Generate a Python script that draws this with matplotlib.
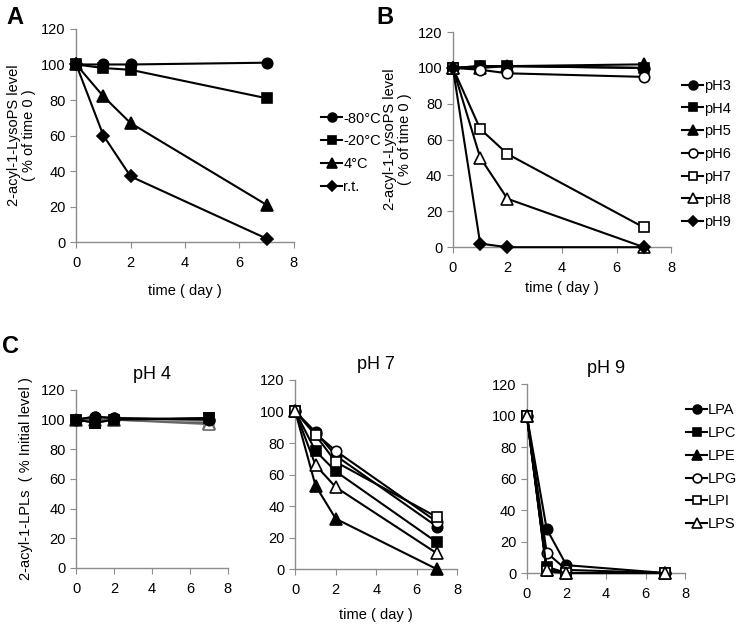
import numpy as np
import matplotlib.pyplot as plt

plt.rcParams['font.family'] = ['Liberation Sans', 'DejaVu Sans']

days = [0, 1, 2, 7]

# panel A: storage temperature
temp_labels = ['-80°C', '-20°C', '4°C', 'r.t.']
temp_m80 = [100, 100, 100, 101]
temp_m20 = [100, 98, 97, 81]
temp_4 = [100, 82, 67, 21]
temp_rt = [100, 60, 37, 2]

# panel B: pH
ph_labels = ['pH3', 'pH4', 'pH5', 'pH6', 'pH7', 'pH8', 'pH9']
ph3 = [100, 101, 101, 100]
ph4 = [100, 101, 101, 100]
ph5 = [100, 100, 101, 102]
ph6 = [100, 99, 97, 95]
ph7 = [100, 66, 52, 11]
ph8 = [100, 50, 27, 0]
ph9 = [100, 2, 0, 0]

# panel C: lysophospholipids at pH 4 / 7 / 9
lpl_labels = ['LPA', 'LPC', 'LPE', 'LPG', 'LPI', 'LPS']
c_ph4 = {
    'LPA': [100, 102, 101, 100],
    'LPC': [100, 98, 100, 101],
    'LPE': [100, 100, 100, 98],
    'LPG': [100, 100, 100, 99],
    'LPI': [100, 99, 100, 99],
    'LPS': [100, 100, 100, 97],
}
c_ph7 = {
    'LPA': [100, 87, 72, 27],
    'LPC': [100, 75, 62, 17],
    'LPE': [100, 53, 32, 0],
    'LPG': [100, 86, 75, 30],
    'LPI': [100, 85, 68, 33],
    'LPS': [100, 66, 52, 10],
}
c_ph9 = {
    'LPA': [100, 28, 5, 0],
    'LPC': [100, 4, 0, 0],
    'LPE': [100, 2, 0, 0],
    'LPG': [100, 13, 2, 0],
    'LPI': [100, 1, 0, 0],
    'LPS': [100, 2, 0, 0],
}

# marker, face colour
styles = {
    'o_f': ('o', 'black'), 's_f': ('s', 'black'), '^_f': ('^', 'black'),
    'o_o': ('o', 'white'), 's_o': ('s', 'white'), '^_o': ('^', 'white'),
    'D_f': ('D', 'black'),
}
lpl_style = ['o_f', 's_f', '^_f', 'o_o', 's_o', '^_o']

SPINE = '#8c8c8c'
FS = 10.5


def style_axes(ax):
    ax.set_xlim(0, 8)
    ax.set_ylim(0, 120)
    ax.set_xticks([0, 2, 4, 6, 8])
    ax.set_yticks(range(0, 121, 20))
    for s in ['top', 'right']:
        ax.spines[s].set_visible(False)
    for s in ['left', 'bottom']:
        ax.spines[s].set_color(SPINE)
        ax.spines[s].set_linewidth(1.0)
    ax.tick_params(direction='out', length=4, color=SPINE, labelsize=FS)
    ax.tick_params(axis='x', pad=6)


def draw(ax, y, key, label, ms=7.5, color='black', mec='black'):
    m, fc = styles[key]
    if m == 'D':
        ms = ms - 1.5
    if m == '^':
        ms = ms + 0.5
    if fc == 'black':
        fc = color
    ax.plot(days, y, marker=m, ms=ms, mfc=fc, mec=mec, mew=1.2,
            color=color, lw=1.5, label=label, clip_on=False, zorder=3)


def legend(ax, anchor):
    ax.legend(loc='upper left', bbox_to_anchor=anchor, frameon=False,
              handlelength=1.4, handletextpad=0.1, labelspacing=0.6,
              borderaxespad=0, fontsize=10.5, markerscale=0.85)


fig = plt.figure(figsize=(7.4, 6.29), dpi=100)

# ---- A
axA = fig.add_axes([0.103, 0.615, 0.294, 0.339])
for y, k, lab in zip([temp_m80, temp_m20, temp_4, temp_rt],
                     ['o_f', 's_f', '^_f', 'D_f'], temp_labels):
    draw(axA, y, k, lab)
style_axes(axA)
axA.set_xlabel('time ( day )', fontsize=FS, labelpad=10)
axA.set_ylabel('2-acyl-1-LysoPS level\n( % of time 0 )', fontsize=FS,
               linespacing=1.1, labelpad=4)
legend(axA, (1.10, 0.64))

# ---- B
axB = fig.add_axes([0.612, 0.607, 0.295, 0.342])
for y, k, lab in zip([ph3, ph4, ph5, ph6, ph7, ph8, ph9],
                     ['o_f', 's_f', '^_f', 'o_o', 's_o', '^_o', 'D_f'],
                     ph_labels):
    draw(axB, y, k, lab)
style_axes(axB)
axB.set_xlabel('time ( day )', fontsize=FS, labelpad=4)
axB.set_ylabel('2-acyl-1-LysoPS level\n( % of time 0 )', fontsize=FS,
               linespacing=1.1, labelpad=4)
legend(axB, (1.025, 0.81))

# ---- C
axC1 = fig.add_axes([0.103, 0.097, 0.205, 0.283])
axC2 = fig.add_axes([0.399, 0.095, 0.219, 0.301])
axC3 = fig.add_axes([0.712, 0.089, 0.214, 0.300])

grays = ['black', 'black', '#555555', '#777777', '#999999', '#666666']
for lab, k, g in zip(lpl_labels, lpl_style, grays):
    draw(axC1, c_ph4[lab], k, lab, color=g, mec=g)
# black markers on top, as in the original
draw(axC1, c_ph4['LPA'], 'o_f', None)
draw(axC1, c_ph4['LPC'], 's_f', None)

for lab, k in zip(lpl_labels, lpl_style):
    draw(axC2, c_ph7[lab], k, lab)
    draw(axC3, c_ph9[lab], k, lab)

for ax, t in zip([axC1, axC2, axC3], ['pH 4', 'pH 7', 'pH 9']):
    style_axes(ax)
    ax.set_title(t, fontsize=13, pad=8)

axC1.set_ylabel('2-acyl-1-LPLs  ( % Initial level )', fontsize=FS,
                labelpad=6)
axC2.set_xlabel('time ( day )', fontsize=FS, labelpad=8)
legend(axC3, (0.97, 0.93))

# panel letters
fig.text(0.008, 0.990, 'A', fontsize=17, fontweight='bold', va='top')
fig.text(0.508, 0.990, 'B', fontsize=17, fontweight='bold', va='top')
fig.text(0.003, 0.468, 'C', fontsize=17, fontweight='bold', va='top')

fig.savefig('out.png', dpi=100)
